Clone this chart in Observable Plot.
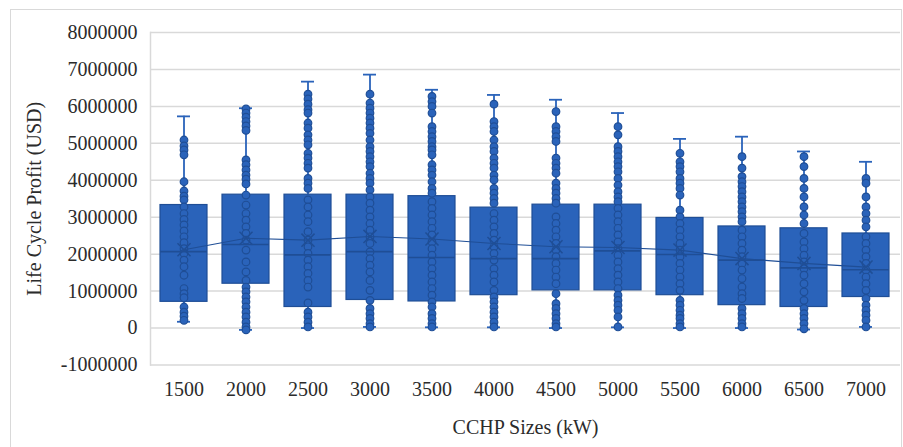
<!DOCTYPE html>
<html><head><meta charset="utf-8">
<script src="https://cdn.jsdelivr.net/npm/d3@7"></script>
<script src="https://cdn.jsdelivr.net/npm/@observablehq/plot@0.6"></script>
<style>
body{margin:0;background:#fff;}
#wrap{position:relative;width:903px;height:447px;overflow:hidden;}
#border{position:absolute;left:10px;top:9px;width:892px;height:445px;border:1.5px solid #d9d9d9;box-sizing:border-box;}
#chart{position:absolute;left:0;top:0;}
</style></head><body>
<div id="wrap"><div id="border"></div><div id="chart"></div></div>
<script>
const sizes = ["1500","2000","2500","3000","3500","4000","4500","5000","5500","6000","6500","7000"];
const yTicks = [-1000000,0,1000000,2000000,3000000,4000000,5000000,6000000,7000000,8000000];

// box-plot statistics, in million USD
const whiskerHighM = [5.73, 5.95, 6.67, 6.86, 6.45, 6.31, 6.18, 5.82, 5.12, 5.18, 4.78, 4.50];
const q3M          = [3.33, 3.61, 3.61, 3.61, 3.57, 3.26, 3.34, 3.34, 2.98, 2.75, 2.70, 2.56];
const medianM      = [2.07, 2.26, 1.98, 2.07, 1.91, 1.88, 1.88, 2.09, 1.99, 1.84, 1.63, 1.58];
const q1M          = [0.71, 1.20, 0.57, 0.76, 0.72, 0.89, 1.02, 1.02, 0.89, 0.62, 0.57, 0.84];
const whiskerLowM  = [0.17, -0.05, 0.0, 0.03, 0.02, 0.02, 0.0, 0.02, 0.0, 0.0, -0.04, 0.03];
const meanM        = [2.12, 2.43, 2.38, 2.48, 2.41, 2.29, 2.20, 2.18, 2.11, 1.88, 1.75, 1.65];

// individual points, in million USD
const pointsM = [
  [5.09,4.93,4.82,4.69,3.96,3.71,3.57,3.47,3.28,3.10,2.94,2.79,2.63,2.47,2.31,2.15,2.02,1.84,1.66,1.43,1.07,0.93,0.82,0.57,0.43,0.32,0.21],
  [5.93,5.82,5.71,5.59,5.47,5.35,4.55,4.42,4.28,4.14,4.03,3.90,3.60,3.33,3.10,2.92,2.74,2.56,2.38,2.11,1.79,1.52,1.29,1.11,0.98,0.84,0.71,0.57,0.43,0.30,0.16,0.03,-0.05],
  [6.33,6.20,6.06,5.91,5.82,5.55,5.41,5.23,5.09,4.96,4.73,4.60,4.46,4.33,4.05,3.92,3.78,3.47,3.28,3.06,2.88,2.61,2.38,2.20,2.02,1.84,1.66,1.48,1.29,1.11,0.68,0.43,0.30,0.16,0.03],
  [6.33,6.09,5.95,5.82,5.68,5.55,5.41,5.27,5.09,4.91,4.78,4.64,4.50,4.37,4.19,4.05,3.92,3.74,3.55,3.38,3.19,3.01,2.83,2.65,2.47,2.29,2.06,1.88,1.70,1.52,1.29,1.02,0.75,0.53,0.39,0.26,0.12,0.03],
  [6.27,6.13,6.00,5.82,5.45,5.32,5.18,5.05,4.91,4.82,4.69,4.42,4.28,4.14,3.96,3.78,3.65,3.42,3.24,3.06,2.88,2.70,2.52,2.33,2.15,1.97,1.79,1.61,1.43,1.25,1.07,0.89,0.71,0.57,0.39,0.26,0.12,0.03],
  [6.06,5.59,5.45,5.32,5.09,4.91,4.78,4.60,4.46,4.33,4.14,4.01,3.78,3.65,3.51,3.38,3.10,2.92,2.74,2.56,2.38,2.20,2.02,1.84,1.61,1.43,1.25,1.02,0.84,0.71,0.57,0.43,0.30,0.16,0.03],
  [5.86,5.45,5.32,5.18,5.05,4.60,4.46,4.33,4.19,3.92,3.78,3.65,3.51,3.38,3.01,2.83,2.65,2.47,2.29,2.11,1.93,1.75,1.57,1.38,1.20,0.93,0.66,0.53,0.39,0.26,0.12,0.03],
  [5.45,5.23,4.91,4.78,4.64,4.50,4.37,4.23,4.05,3.87,3.69,3.55,3.42,3.24,3.06,2.88,2.70,2.52,2.33,2.15,1.97,1.79,1.61,1.43,1.25,1.07,0.89,0.75,0.62,0.48,0.30,0.03],
  [4.73,4.50,4.37,4.23,4.05,3.92,3.78,3.60,3.19,3.01,2.83,2.65,2.47,2.29,2.11,1.93,1.75,1.57,1.38,1.20,1.02,0.75,0.62,0.48,0.35,0.26,0.12,0.03],
  [4.64,4.33,4.10,3.96,3.83,3.69,3.55,3.42,3.28,3.15,3.01,2.88,2.65,2.47,2.29,2.11,1.93,1.75,1.57,1.34,1.11,0.93,0.80,0.53,0.39,0.26,0.12,0.03],
  [4.64,4.37,4.05,3.78,3.55,3.28,3.06,2.83,2.56,2.33,2.15,1.97,1.79,1.61,1.43,1.20,0.98,0.75,0.53,0.39,0.26,0.12,-0.02],
  [4.05,3.92,3.55,3.28,3.10,2.92,2.74,2.47,2.29,2.11,1.93,1.75,1.57,1.38,1.20,1.02,0.80,0.62,0.48,0.35,0.21,0.03]
];

const M = 1e6;
const stats = sizes.map((s, i) => ({
  size: s, hi: whiskerHighM[i]*M, q3: q3M[i]*M, median: medianM[i]*M,
  q1: q1M[i]*M, lo: whiskerLowM[i]*M, mean: meanM[i]*M
}));
const pts = sizes.flatMap((s, i) => pointsM[i].map(v => ({size: s, value: v*M})));

const blue = "#2A63BA";
const dark = "#1F4E96";
const grid = "#d9d9d9";

const chart = Plot.plot({
  width: 903, height: 447,
  marginLeft: 150, marginRight: 3, marginTop: 32, marginBottom: 82.5,
  style: {fontFamily: "'Liberation Serif','Times New Roman',serif", fontSize: "20px", color: "#2b2b2b", background: "transparent"},
  x: {domain: sizes, paddingInner: 0.24, paddingOuter: 0.12},
  y: {domain: [-1000000, 8000000]},
  marks: [
    Plot.gridY(yTicks, {stroke: grid, strokeOpacity: 1, strokeWidth: 1.5}),
    Plot.frame({anchor: "left", stroke: grid, strokeWidth: 1.5}),
    Plot.axisY(yTicks, {tickSize: 0, tickPadding: 13, tickFormat: d => String(d),
      label: "Life Cycle Profit (USD)", labelAnchor: "center", labelArrow: "none", labelOffset: 124}),
    Plot.axisX({tickSize: 0, tickPadding: 17, label: "CCHP Sizes (kW)", labelAnchor: "center", labelArrow: "none", labelOffset: 69}),
    Plot.ruleX(stats, {x: "size", y1: "q3", y2: "hi", stroke: blue, strokeWidth: 1.8}),
    Plot.ruleX(stats, {x: "size", y1: "lo", y2: "q1", stroke: blue, strokeWidth: 1.8}),
    Plot.tickY(stats, {x: "size", y: "hi", stroke: blue, strokeWidth: 1.8, insetLeft: 17, insetRight: 17}),
    Plot.tickY(stats, {x: "size", y: "lo", stroke: blue, strokeWidth: 1.8, insetLeft: 17, insetRight: 17}),
    Plot.barY(stats, {x: "size", y1: "q1", y2: "q3", fill: blue, stroke: dark, strokeWidth: 1.2}),
    Plot.dot(pts, {x: "size", y: "value", r: 3.8, fill: blue, stroke: dark, strokeWidth: 1.2}),
    Plot.tickY(stats, {x: "size", y: "median", stroke: dark, strokeWidth: 1.6}),
    Plot.line(stats, {x: "size", y: "mean", stroke: dark, strokeWidth: 1.1}),
    Plot.dot(stats, {x: "size", y: "mean", symbol: "times", r: 6, stroke: dark, strokeWidth: 1.5})
  ]
});
document.getElementById("chart").appendChild(chart);
</script>
</body></html>
